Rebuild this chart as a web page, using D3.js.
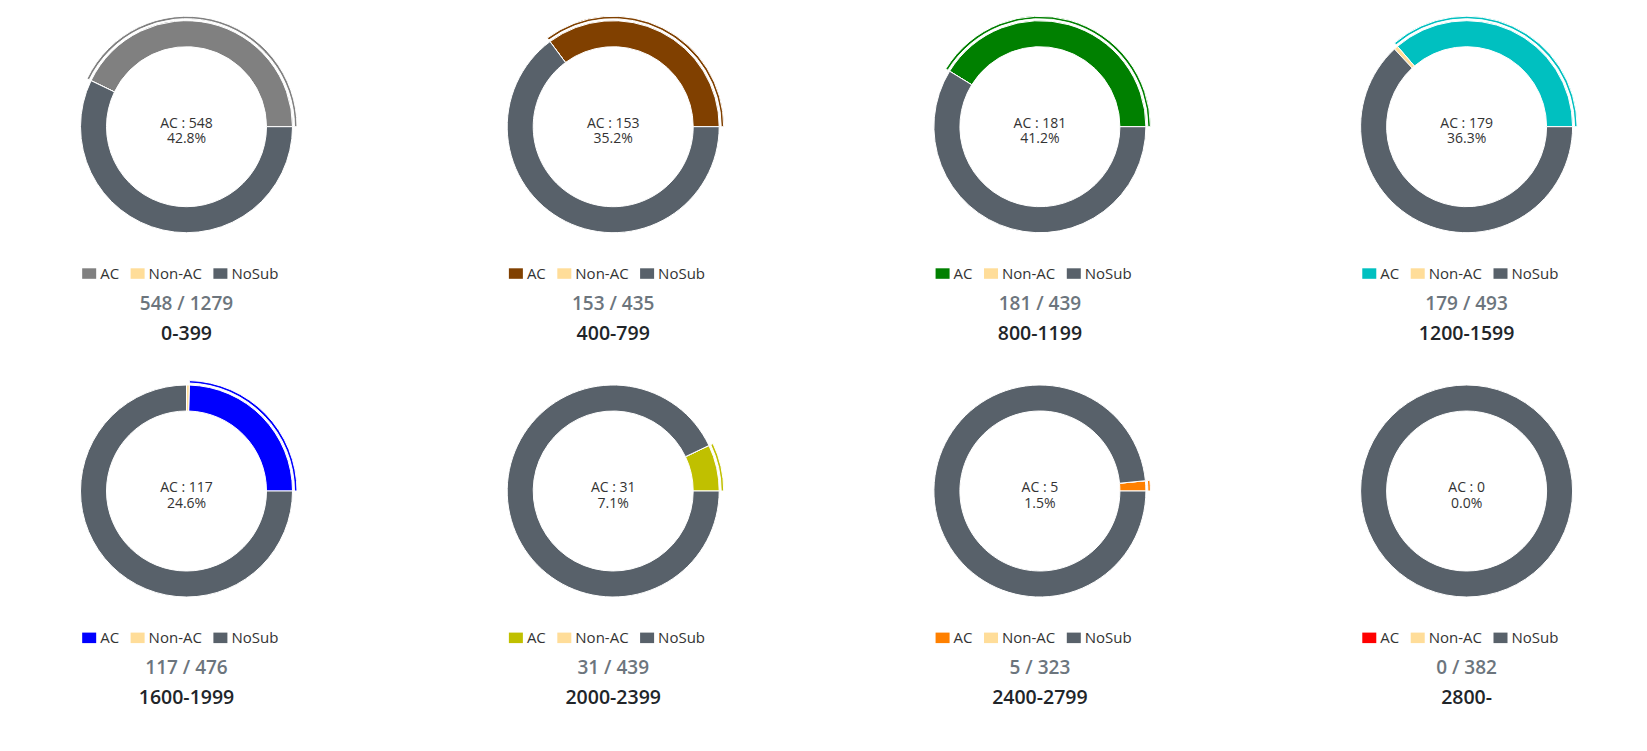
<!DOCTYPE html>
<html>
<head>
<meta charset="utf-8">
<script src="https://cdn.jsdelivr.net/npm/d3@7"></script>
<style>
  body { margin: 0; background: #fff; }
  svg { display: block; font-family: "Open Sans", "Noto Sans", sans-serif; }
</style>
</head>
<body>
<svg width="1647" height="751"></svg>
<script>
// data
var ranges = ["0-399", "400-799", "800-1199", "1200-1599", "1600-1999", "2000-2399", "2400-2799", "2800-"];
var acCounts = [548, 153, 181, 179, 117, 31, 5, 0];
var nonAcCounts = [0, 0, 0, 3, 2, 0, 0, 0];
var totals = [1279, 435, 439, 493, 476, 439, 323, 382];
var seriesNames = ["AC", "Non-AC", "NoSub"];

// colours
var acColors = ["#808080", "#804000", "#008000", "#00c0c0", "#0000ff", "#c0c000", "#ff8000", "#ff0000"];
var nonAcColor = "#ffdd99";
var noSubColor = "#58616a";

// presets
var svg = d3.select("svg");
var innerR = 80,
  outerR = 106;

var x = d3.scalePoint().domain([0, 1, 2, 3]).range([186.5, 1466.6]);
var y = d3.scalePoint().domain([0, 1]).range([126.7, 491]);

var pie = d3
  .pie()
  .sort(null)
  .value(function(d) {
    return d.value;
  })
  .startAngle(Math.PI / 2)
  .endAngle(Math.PI / 2 - 2 * Math.PI);

var arc = d3.arc().innerRadius(innerR).outerRadius(outerR);
var activeArc = d3.arc().innerRadius(outerR + 2).outerRadius(outerR + 4.5);

function renderDonut(i) {
  var cx = x(i % 4),
    cy = y(Math.floor(i / 4));
  var ac = acCounts[i],
    nonAc = nonAcCounts[i],
    total = totals[i];
  var colors = [acColors[i], nonAcColor, noSubColor];
  var slices = [
    { name: "AC", value: ac },
    { name: "Non-AC", value: nonAc },
    { name: "NoSub", value: total - ac - nonAc }
  ];
  var arcs = pie(slices);

  var g = svg.append("g").attr("transform", "translate(" + cx + "," + cy + ")");

  g.selectAll("path.slice")
    .data(arcs)
    .enter()
    .append("path")
    .attr("class", "slice")
    .attr("d", arc)
    .attr("fill", function(d, j) {
      return colors[j];
    })
    .attr("stroke", "#fff")
    .attr("stroke-width", 1);

  // highlighted AC sector ring
  g.append("path")
    .attr("d", activeArc(arcs[0]))
    .attr("fill", colors[0])
    .attr("stroke", "#fff")
    .attr("stroke-width", 1);

  // centre label
  var label = g.append("text").attr("text-anchor", "middle").attr("fill", "#333").style("font-size", "14px");
  label.append("tspan").attr("x", 0).attr("y", 0.8).text("AC : " + ac);
  label
    .append("tspan")
    .attr("x", 0)
    .attr("y", 16.8)
    .text(((ac / total) * 100).toFixed(1) + "%");

  // legend
  var legend = g.append("g");
  var offset = 0;
  seriesNames.forEach(function(name, j) {
    var item = legend.append("g").attr("transform", "translate(" + offset + ",0)");
    item
      .append("rect")
      .attr("x", 0)
      .attr("y", 141.6)
      .attr("width", 14)
      .attr("height", 10.5)
      .attr("fill", colors[j]);
    var t = item
      .append("text")
      .attr("x", 18)
      .attr("y", 152.2)
      .attr("fill", "#333")
      .style("font-size", "15px")
      .text(name);
    offset += 18 + t.node().getComputedTextLength() + 11.5;
  });
  legend.attr("transform", "translate(" + (-offset / 2 - 0.5) + ",0)");

  g.append("text")
    .attr("text-anchor", "middle")
    .attr("y", 183)
    .attr("fill", "#6c757d")
    .style("font-size", "19px")
    .style("font-weight", 600)
    .text(ac + " / " + total);

  g.append("text")
    .attr("text-anchor", "middle")
    .attr("y", 213.3)
    .attr("fill", "#212529")
    .style("font-size", "19.5px")
    .style("font-weight", 600)
    .text(ranges[i]);
}

ranges.forEach(function(_, i) {
  renderDonut(i);
});
</script>
</body>
</html>
